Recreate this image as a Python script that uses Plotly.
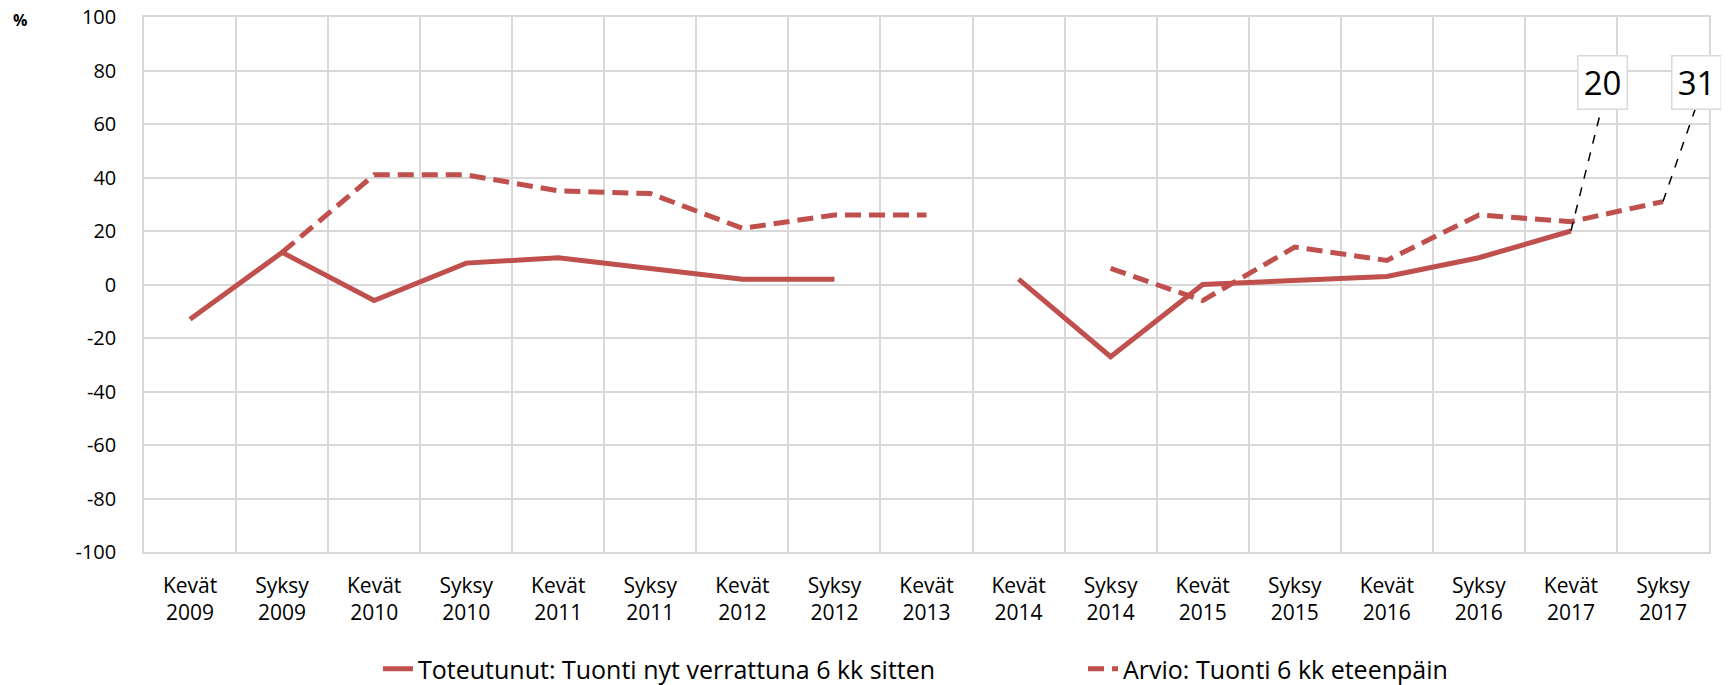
import plotly.graph_objects as go

categories = ["Kevät<br>2009", "Syksy<br>2009", "Kevät<br>2010", "Syksy<br>2010",
              "Kevät<br>2011", "Syksy<br>2011", "Kevät<br>2012", "Syksy<br>2012",
              "Kevät<br>2013", "Kevät<br>2014", "Syksy<br>2014", "Kevät<br>2015",
              "Syksy<br>2015", "Kevät<br>2016", "Syksy<br>2016", "Kevät<br>2017",
              "Syksy<br>2017"]
toteutunut = [-13, 12, -6, 8, 10, 6, 2, 2, None, 2, -27, 0, 1.5, 3, 10, 20, None]
arvio = [None, 12, 41, 41, 35, 34, 21, 26, 26, None, 6, -6, 14, 9, 26, 23.5, 31]
name_tot = "Toteutunut: Tuonti nyt verrattuna 6 kk sitten"
name_arv = "Arvio: Tuonti 6 kk eteenpäin"
y_ticks = [-100, -80, -60, -40, -20, 0, 20, 40, 60, 80, 100]
y_tick_labels = ["-100", "-80", "-60", "-40", "-20", "0", "20", "40", "60", "80", "100"]

RED = "#C0504D"
GRID = "#D9D9D9"
FONT = "Open Sans"

# the html page body has an 8px margin, so the figure is 8px smaller and shifted
W, H = 1721, 677
L, T, R, B = 136, 9, 20, 133
PW = W - L - R
PH = H - T - B

fig = go.Figure()
fig.add_trace(go.Scatter(x=categories, y=toteutunut, name=name_tot, mode="lines",
                         line=dict(color=RED, width=5), connectgaps=False))
fig.add_trace(go.Scatter(x=categories, y=arvio, name=name_arv, mode="lines",
                         line=dict(color=RED, width=5, dash="16px,8px"), connectgaps=False))

# data labels with dashed leader lines
labels = [(15, toteutunut[15], 15.34), (16, arvio[16], 16.36)]
for idx, val, bx in labels:
    fig.add_shape(type="line", xref="x", yref="y", x0=idx, y0=val, x1=bx - 0.01, y1=65.5,
                  line=dict(color="black", width=1.5, dash="dash"), layer="above")
    fig.add_annotation(x=bx, y=75.7, xref="x", yref="y", text=f"{val:g}", showarrow=False,
                       font=dict(family=FONT, size=33, color="black"),
                       bgcolor="white", bordercolor=GRID, borderwidth=1.5, borderpad=4,
                       width=40, height=44, xanchor="center", yanchor="middle")

fig.add_annotation(text="<b>%</b>", xref="paper", yref="paper", x=(12 - L) / PW,
                   y=1 + (T + 1) / PH, yanchor="top",
                   showarrow=False, font=dict(family=FONT, size=16, color="black"),
                   xanchor="center")

fig.update_layout(
    width=W, height=H,
    margin=dict(l=L, r=R, t=T, b=B, autoexpand=False),
    paper_bgcolor="white", plot_bgcolor="white",
    font=dict(family=FONT, size=21, color="black"),
    showlegend=True,
    legend=dict(orientation="h", xref="container", yref="container",
                x=370 / W, xanchor="left", y=1 - 661 / H, yanchor="middle",
                font=dict(family=FONT, size=25), entrywidth=660,
                entrywidthmode="pixels", itemwidth=30, tracegroupgap=0),
    xaxis=dict(type="category", tickson="boundaries", showgrid=True, gridcolor=GRID,
               gridwidth=1.5, showline=True, linecolor=GRID, linewidth=1.5, mirror=True,
               ticks="", tickangle=0, range=[-0.5, 16.5], ticklabelstandoff=14,
               automargin=False, ticklabeloverflow="allow"),
    yaxis=dict(range=[-100, 100], tickvals=y_ticks, ticktext=y_tick_labels, showgrid=True,
               gridcolor=GRID, gridwidth=1.5, zeroline=False, showline=True,
               linecolor=GRID, linewidth=1.5, mirror=True, ticks="",
               ticklabelstandoff=22, automargin=False, tickfont=dict(size=20),
               ticklabeloverflow="allow"),
)

fig.write_html("out.html")
